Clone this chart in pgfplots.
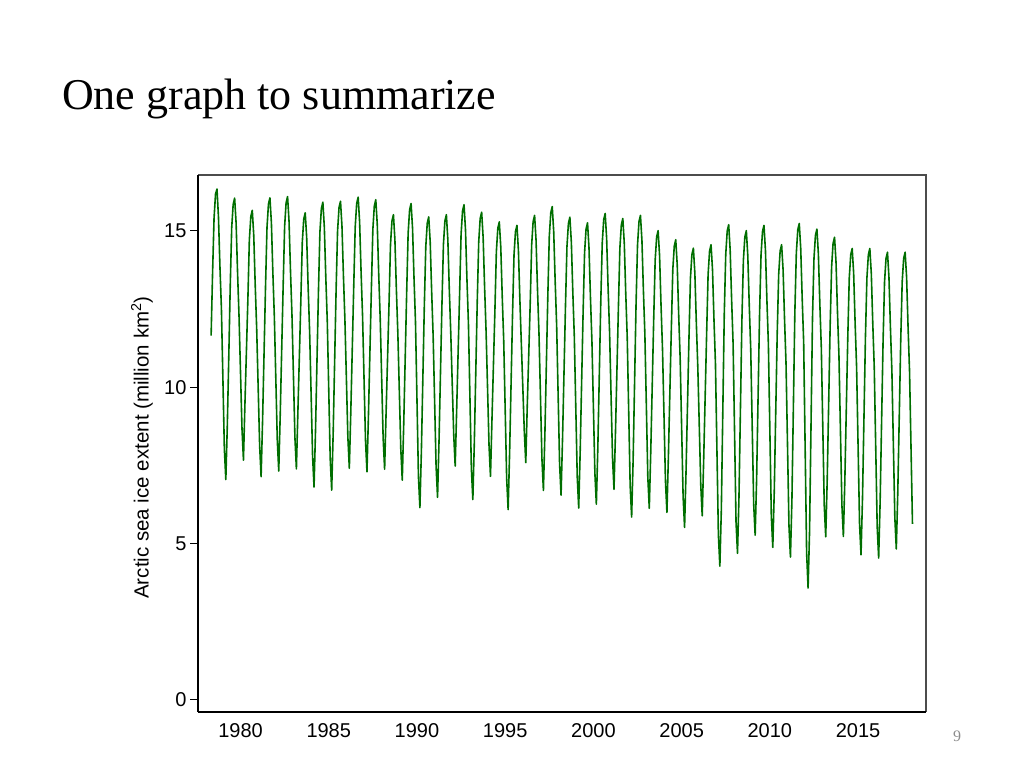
\documentclass[border=0pt]{standalone}
\usepackage{pgfplots}
\pgfplotsset{compat=1.18}
\usepackage{pgfplotstable}
\usepackage{fontspec}
\setmainfont{Liberation Serif}
\newfontfamily\arial{Liberation Sans}
\definecolor{linegreen}{RGB}{0,110,0}
% Arctic sea ice extent, monthly, Nov 1978 -- Aug 2018 (million km^2)
\pgfplotstableread[row sep=\\]{
ext\\
11.65\\ 13.67\\
15.41\\ 16.18\\ 16.34\\ 15.45\\ 13.86\\ 12.53\\ 10.31\\ 8.04\\ 7.05\\ 8.75\\ 10.94\\ 13.23\\
15.10\\ 15.85\\ 16.05\\ 15.25\\ 13.65\\ 12.25\\ 10.46\\ 8.67\\ 7.67\\ 9.47\\ 11.14\\ 12.81\\
14.71\\ 15.46\\ 15.66\\ 14.86\\ 13.26\\ 11.86\\ 10.00\\ 8.14\\ 7.14\\ 8.94\\ 11.08\\ 13.21\\
15.11\\ 15.86\\ 16.06\\ 15.26\\ 13.66\\ 12.26\\ 10.29\\ 8.32\\ 7.32\\ 9.12\\ 11.19\\ 13.25\\
15.15\\ 15.90\\ 16.10\\ 15.30\\ 13.70\\ 12.30\\ 10.35\\ 8.39\\ 7.39\\ 9.19\\ 10.96\\ 12.73\\
14.63\\ 15.38\\ 15.58\\ 14.78\\ 13.18\\ 11.78\\ 9.80\\ 7.81\\ 6.81\\ 8.61\\ 10.84\\ 13.07\\
14.97\\ 15.72\\ 15.92\\ 15.12\\ 13.52\\ 12.12\\ 9.92\\ 7.71\\ 6.71\\ 8.51\\ 10.81\\ 13.10\\
15.00\\ 15.75\\ 15.95\\ 15.15\\ 13.55\\ 12.15\\ 10.28\\ 8.41\\ 7.41\\ 9.21\\ 11.22\\ 13.23\\
15.13\\ 15.88\\ 16.08\\ 15.28\\ 13.68\\ 12.28\\ 10.29\\ 8.30\\ 7.30\\ 9.10\\ 11.13\\ 13.15\\
15.05\\ 15.80\\ 16.00\\ 15.20\\ 13.60\\ 12.20\\ 10.29\\ 8.38\\ 7.38\\ 9.18\\ 10.93\\ 12.67\\
14.57\\ 15.32\\ 15.52\\ 14.72\\ 13.12\\ 11.72\\ 9.88\\ 8.03\\ 7.03\\ 8.83\\ 10.93\\ 13.03\\
14.93\\ 15.68\\ 15.88\\ 15.08\\ 13.48\\ 12.08\\ 9.62\\ 7.15\\ 6.15\\ 7.95\\ 10.28\\ 12.60\\
14.50\\ 15.25\\ 15.45\\ 14.65\\ 13.05\\ 11.65\\ 9.57\\ 7.48\\ 6.48\\ 8.28\\ 10.48\\ 12.67\\
14.57\\ 15.32\\ 15.52\\ 14.72\\ 13.12\\ 11.72\\ 10.10\\ 8.48\\ 7.48\\ 9.28\\ 11.14\\ 12.99\\
14.89\\ 15.64\\ 15.84\\ 15.04\\ 13.44\\ 12.04\\ 9.73\\ 7.41\\ 6.41\\ 8.21\\ 10.48\\ 12.75\\
14.65\\ 15.40\\ 15.60\\ 14.80\\ 13.20\\ 11.80\\ 9.98\\ 8.15\\ 7.15\\ 8.95\\ 10.70\\ 12.44\\
14.34\\ 15.09\\ 15.29\\ 14.49\\ 12.89\\ 11.49\\ 9.29\\ 7.09\\ 6.09\\ 7.89\\ 10.11\\ 12.33\\
14.23\\ 14.98\\ 15.18\\ 14.38\\ 12.78\\ 11.38\\ 9.99\\ 8.59\\ 7.59\\ 9.39\\ 11.02\\ 12.65\\
14.55\\ 15.30\\ 15.50\\ 14.70\\ 13.10\\ 11.70\\ 9.70\\ 7.70\\ 6.70\\ 8.50\\ 10.72\\ 12.93\\
14.83\\ 15.58\\ 15.78\\ 14.98\\ 13.38\\ 11.98\\ 9.77\\ 7.55\\ 6.55\\ 8.35\\ 10.47\\ 12.59\\
14.49\\ 15.24\\ 15.44\\ 14.64\\ 13.04\\ 11.64\\ 9.39\\ 7.14\\ 6.14\\ 7.94\\ 10.18\\ 12.41\\
14.31\\ 15.06\\ 15.26\\ 14.46\\ 12.86\\ 11.46\\ 9.36\\ 7.26\\ 6.26\\ 8.06\\ 10.39\\ 12.71\\
14.61\\ 15.36\\ 15.56\\ 14.76\\ 13.16\\ 11.76\\ 9.75\\ 7.74\\ 6.74\\ 8.54\\ 10.55\\ 12.55\\
14.45\\ 15.20\\ 15.40\\ 14.60\\ 13.00\\ 11.60\\ 9.23\\ 6.85\\ 5.85\\ 7.65\\ 10.15\\ 12.65\\
14.55\\ 15.30\\ 15.50\\ 14.70\\ 13.10\\ 11.70\\ 9.42\\ 7.13\\ 6.13\\ 7.93\\ 10.05\\ 12.16\\
14.06\\ 14.81\\ 15.01\\ 14.21\\ 12.61\\ 11.21\\ 9.11\\ 7.00\\ 6.00\\ 7.80\\ 9.84\\ 11.87\\
13.77\\ 14.52\\ 14.72\\ 13.92\\ 12.32\\ 10.92\\ 8.72\\ 6.52\\ 5.52\\ 7.32\\ 9.46\\ 11.60\\
13.50\\ 14.25\\ 14.45\\ 13.65\\ 12.05\\ 10.65\\ 8.77\\ 6.89\\ 5.89\\ 7.69\\ 9.70\\ 11.71\\
13.61\\ 14.36\\ 14.56\\ 13.76\\ 12.16\\ 10.76\\ 8.02\\ 5.28\\ 4.28\\ 6.08\\ 9.22\\ 12.35\\
14.25\\ 15.00\\ 15.20\\ 14.40\\ 12.80\\ 11.40\\ 8.55\\ 5.69\\ 4.69\\ 6.49\\ 9.33\\ 12.16\\
14.06\\ 14.81\\ 15.01\\ 14.21\\ 12.61\\ 11.21\\ 8.74\\ 6.27\\ 5.27\\ 7.07\\ 9.70\\ 12.33\\
14.23\\ 14.98\\ 15.18\\ 14.38\\ 12.78\\ 11.38\\ 8.63\\ 5.88\\ 4.88\\ 6.68\\ 9.20\\ 11.71\\
13.61\\ 14.36\\ 14.56\\ 13.76\\ 12.16\\ 10.76\\ 8.17\\ 5.57\\ 4.57\\ 6.37\\ 9.38\\ 12.39\\
14.29\\ 15.04\\ 15.24\\ 14.44\\ 12.84\\ 11.44\\ 8.08\\ 4.72\\ 3.58\\ 5.38\\ 8.80\\ 12.21\\
14.11\\ 14.86\\ 15.06\\ 14.26\\ 12.66\\ 11.26\\ 8.74\\ 6.22\\ 5.22\\ 7.02\\ 9.49\\ 11.95\\
13.85\\ 14.60\\ 14.80\\ 14.00\\ 12.40\\ 11.00\\ 8.62\\ 6.23\\ 5.23\\ 7.03\\ 9.31\\ 11.59\\
13.49\\ 14.24\\ 14.44\\ 13.64\\ 12.04\\ 10.64\\ 8.14\\ 5.64\\ 4.64\\ 6.44\\ 9.02\\ 11.59\\
13.49\\ 14.24\\ 14.44\\ 13.64\\ 12.04\\ 10.64\\ 8.09\\ 5.54\\ 4.54\\ 6.34\\ 8.91\\ 11.47\\
13.37\\ 14.12\\ 14.32\\ 13.52\\ 11.92\\ 10.52\\ 8.18\\ 5.83\\ 4.83\\ 6.63\\ 9.05\\ 11.47\\
13.37\\ 14.12\\ 14.32\\ 13.52\\ 11.92\\ 10.52\\ 8.08\\ 5.63\\
}\icedata
\begin{document}
\begin{tikzpicture}[x=1pt,y=1pt]
\useasboundingbox (0,0) rectangle (1024,768);
\node[anchor=base west, inner sep=0pt, font=\fontsize{44}{50}\selectfont] at (62,658) {One graph to summarize};
\node[anchor=base, inner sep=0pt, text=black!45, font=\fontsize{16}{18}\selectfont] at (957,27) {9};
\draw[black!70, line width=1.3pt] (198,593) -- (926,593) -- (926,56);
\begin{axis}[at={(198pt,56pt)}, anchor=south west, width=728pt, height=537pt, scale only axis,
  xmin=1977.59, xmax=2018.85, ymin=-0.384, ymax=16.79,
  axis lines*=left, axis line style={black, line width=1.6pt, -},
  xtick={1980,1985,...,2015}, ytick={0,5,10,15},
  /pgf/number format/1000 sep={},
  /pgf/number format/assume math mode=true,
  tick label style={font=\arial\fontsize{20}{23}\selectfont},
  x tick style={draw=none}, y tick style={black, line width=1pt},
  tick align=outside, major tick length=8pt,
]
\addplot[linegreen, line width=1.6pt, line join=round, no markers] table[x expr=1978.33333+\coordindex/12, y index=0] \icedata;
\end{axis}
\node[rotate=90, font=\arial\fontsize{20.5}{24}\selectfont] at (142,320.5) {Arctic sea ice extent (million km\textsuperscript{2})};
\end{tikzpicture}
\end{document}
